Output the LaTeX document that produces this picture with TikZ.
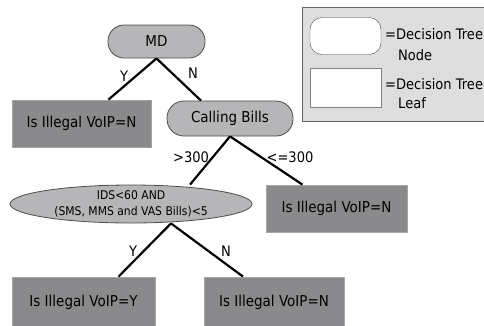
\documentclass[tikz,border=0pt]{standalone}
\usepackage{fontspec}
\setmainfont[FakeStretch=0.9]{DejaVu Sans}
\usetikzlibrary{shapes.geometric}
\definecolor{nodegray}{HTML}{B6B6B8}
\definecolor{leafgray}{HTML}{8A8A8C}
\definecolor{keygray}{HTML}{DEDEDE}
\begin{document}
\begin{tikzpicture}[x=1pt,y=-1pt,
		tnode/.style={draw=black!70,fill=nodegray,line width=0.8pt,inner sep=0pt,font=\fontsize{15}{17}\selectfont},
		tleaf/.style={draw=black!35,fill=leafgray,line width=0.8pt,inner sep=0pt,font=\fontsize{15}{17}\selectfont},
		branch/.style={line width=2.2pt},
		lbl/.style={font=\fontsize{14.5}{17}\selectfont,inner sep=0pt}]
		\useasboundingbox (0,0) rectangle (484,325);
		\clip (0,0) rectangle (484,325);
		
		% key
		\draw[fill=keygray,draw=black!60,line width=0.8pt] (302,7) rectangle (495,121);
		\node[draw=black!70,fill=white,rounded corners=12pt,minimum width=71pt,minimum height=37pt,inner sep=0pt] (keynode) at (345.5,36) {};
		\node[draw=black!50,fill=white,minimum width=71pt,minimum height=39pt,inner sep=0pt] (keyleaf) at (345.5,87.5) {};
		\node[lbl,anchor=west] (keytxta) at (385,34) {=Decision Tree};
		\node[lbl,anchor=west] (keytxtb) at (398,55) {Node};
		\node[lbl,anchor=west] (keytxtc) at (385,84) {=Decision Tree};
		\node[lbl,anchor=west] (keytxtd) at (398,103) {Leaf};
		
		% tree
		\node[tnode,rounded corners=16pt,minimum width=97pt,minimum height=33pt] (md) at (156.5,41.5) {MD};
		\node[tleaf,minimum width=139pt,minimum height=47pt] (leafa) at (81.5,123.5) {Is Illegal VoIP=N};
		\node[tnode,rounded corners=17pt,minimum width=126pt,minimum height=35pt] (bills) at (230,118.5) {Calling Bills};
		\node[tnode,ellipse,minimum width=242pt,minimum height=38pt,font=\fontsize{12}{15.5}\selectfont,align=center] (ids) at (131,204) {IDS<60 AND\\(SMS, MMS and VAS Bills)<5};
		\node[tleaf,minimum width=141pt,minimum height=47pt] (leafb) at (336.5,208.5) {Is Illegal VoIP=N};
		\node[tleaf,minimum width=143pt,minimum height=50pt] (leafc) at (83.5,302) {Is Illegal VoIP=Y};
		\node[tleaf,minimum width=140pt,minimum height=50pt] (leafd) at (274,302) {Is Illegal VoIP=N};
		
		\draw[branch] (md.south) -- ([xshift=27pt]leafa.north);
		\draw[branch] (md.south) -- ([xshift=-29pt]bills.north);
		\draw[branch] (bills.south) -- ([xshift=59pt]ids.north);
		\draw[branch] (bills.south) -- ([xshift=-34pt]leafb.north);
		\draw[branch] ([xshift=40pt]ids.south) -- ([xshift=35pt]leafc.north);
		\draw[branch] ([xshift=40pt]ids.south) -- ([xshift=-31pt]leafd.north);
		
		\node[lbl] (ya) at (124,76) {Y};
		\node[lbl] (na) at (193,73) {N};
		\node[lbl] (gt) at (191,157) {>300};
		\node[lbl] (le) at (290,157) {<=300};
		\node[lbl] (yb) at (133,251) {Y};
		\node[lbl] (nb) at (226,251) {N};
		\end{tikzpicture}
\end{document}
